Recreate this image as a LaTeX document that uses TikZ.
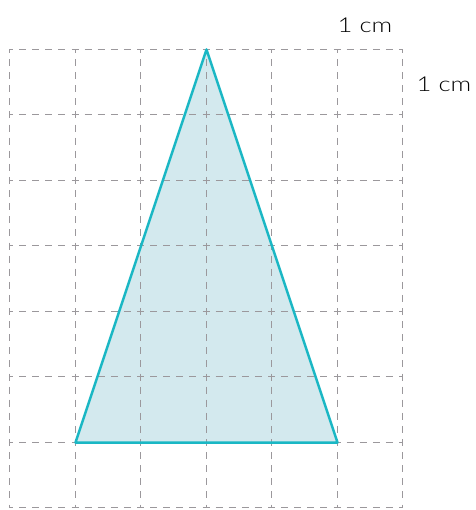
\documentclass[tikz,border=0pt]{standalone}
\usepackage{fontspec}
\setmainfont{Lato}
\newfontfamily\lblfont[FakeStretch=1.25]{Lato Light}
\definecolor{gridgray}{HTML}{9B989C}
\definecolor{tealline}{HTML}{1AB7C4}
\definecolor{tealfill}{HTML}{D3E9EE}
\tikzset{
  gridline/.style={gridgray, line width=1.7pt, dash pattern=on 7pt off 6.1pt, dash phase=3.5pt},
  triline/.style={tealline, line width=2.5pt, line join=round},
  lbl/.style={anchor=base, inner sep=0pt, font=\lblfont\fontsize{20.5}{24}\selectfont}
}
\begin{document}
\begin{tikzpicture}[x=1pt,y=-1pt]
\useasboundingbox (0,0) rectangle (475,510);
\coordinate (A) at (206.5,49.5);
\coordinate (B) at (75.5,442.5);
\coordinate (C) at (337.5,442.5);
\fill[tealfill] (A) -- (B) -- (C) -- cycle;
\foreach \x in {9.5,75.5,140.5,206.5,271.5,337.5,402.5} {
  \draw[gridline] (\x,49.5) -- (\x,507.5);
}
\foreach \y in {49.5,114.5,180.5,245.5,311.5,376.5,442.5,507.5} {
  \draw[gridline] (9.5,\y) -- (402.5,\y);
}
\draw[triline] (A) -- (B) -- (C) -- cycle;
\node[lbl] (t1) at (365,33) {1 cm};
\node[lbl] (t2) at (444,92) {1 cm};
\end{tikzpicture}
\end{document}
